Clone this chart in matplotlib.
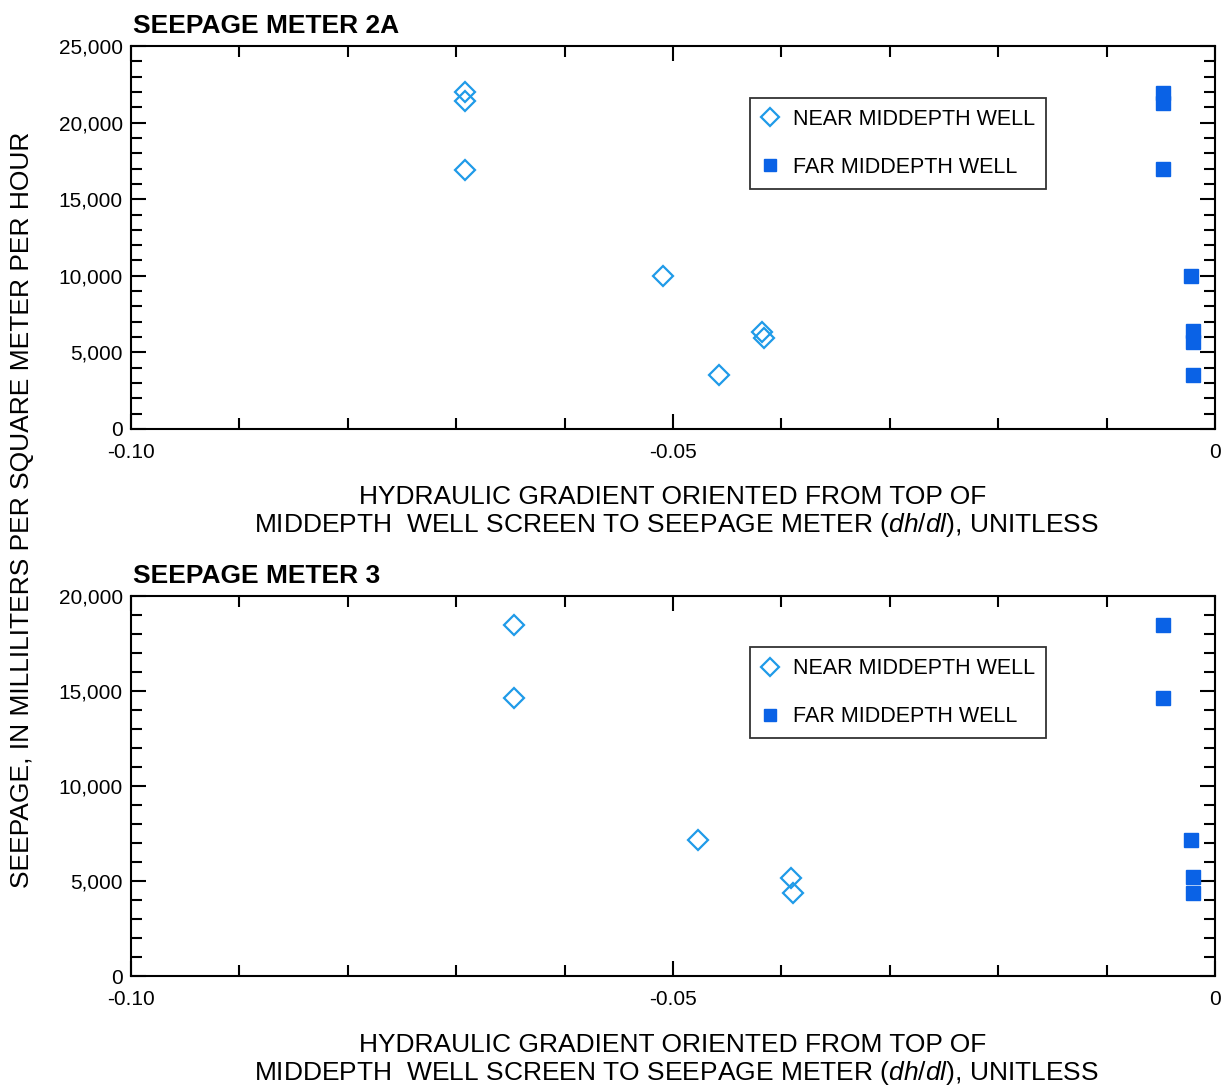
import numpy as np
import matplotlib
matplotlib.use("Agg")
import matplotlib.pyplot as plt
from matplotlib.ticker import MultipleLocator, FixedLocator, FuncFormatter

plt.rcParams['font.family'] = ['Liberation Sans', 'DejaVu Sans']
plt.rcParams['mathtext.fontset'] = 'custom'
plt.rcParams['mathtext.it'] = 'Liberation Sans:italic'
plt.rcParams['mathtext.rm'] = 'Liberation Sans'

# Seepage meter 2A
near_2a_x = [-0.0692, -0.0692, -0.0692, -0.0509, -0.0458, -0.0418, -0.0416]
near_2a_y = [22000, 21400, 16900, 10000, 3500, 6300, 5950]
far_2a_x = [-0.0048, -0.0048, -0.0048, -0.0022, -0.0020, -0.0020, -0.0020]
far_2a_y = [21950, 21300, 16950, 10000, 6400, 5650, 3520]

# Seepage meter 3
near_3_x = [-0.0647, -0.0647, -0.0477, -0.0391, -0.0389]
near_3_y = [18450, 14650, 7160, 5150, 4350]
far_3_x = [-0.0048, -0.0048, -0.0022, -0.0020, -0.0020]
far_3_y = [18450, 14650, 7180, 5200, 4350]

titles = ["SEEPAGE METER 2A", "SEEPAGE METER 3"]
ymax = [25000, 20000]
xtick_vals = [-0.10, -0.05, 0]
xtick_labels = ["-0.10", "-0.05", "0"]

near_color = '#1f9be8'
far_color = '#0a62e6'

fig = plt.figure(figsize=(12.29, 10.91), dpi=100)
ax1 = fig.add_axes([0.1066, 0.6068, 0.882, 0.351])
ax2 = fig.add_axes([0.1066, 0.1054, 0.882, 0.3483])

data = [(near_2a_x, near_2a_y, far_2a_x, far_2a_y),
        (near_3_x, near_3_y, far_3_x, far_3_y)]

# x label line positions (figure pixels from top) for each panel
xlab_rows = [(497, 525), (1045, 1073)]
fig_h = 1091

for ax, (nx, ny, fx, fy), title, ym, rows in zip([ax1, ax2], data, titles, ymax, xlab_rows):
    ax.plot(nx, ny, linestyle='none', marker='D', markersize=10,
            markerfacecolor='none', markeredgecolor=near_color,
            markeredgewidth=1.6, label='NEAR MIDDEPTH WELL')
    ax.plot(fx, fy, linestyle='none', marker='s', markersize=10,
            markerfacecolor=far_color, markeredgecolor=far_color,
            label='FAR MIDDEPTH WELL')
    ax.set_xlim(-0.10, 0)
    ax.set_ylim(0, ym)
    ax.xaxis.set_major_locator(FixedLocator(xtick_vals))
    ax.set_xticklabels(xtick_labels)
    ax.xaxis.set_minor_locator(MultipleLocator(0.01))
    ax.yaxis.set_major_locator(MultipleLocator(5000))
    ax.yaxis.set_minor_locator(MultipleLocator(1000))
    ax.yaxis.set_major_formatter(FuncFormatter(lambda v, p: f"{int(v):,}"))
    ax.tick_params(which='both', direction='in', top=True, right=True,
                   labelsize=15, width=1.5)
    ax.tick_params(axis='x', which='both', pad=10)
    ax.tick_params(axis='y', which='both', pad=6)
    ax.tick_params(which='major', length=11)
    ax.tick_params(which='minor', length=8)
    for s in ax.spines.values():
        s.set_linewidth(1.5)
    ax.text(0.002, 1.022, title, transform=ax.transAxes, fontsize=19,
            fontweight='bold', ha='left', va='bottom')
    fig.text(0.5 * (0.1066 + 0.9886), 1 - rows[0] / fig_h,
             "HYDRAULIC GRADIENT ORIENTED FROM TOP OF",
             fontsize=19, ha='center', va='center')
    fig.text(0.5 * (0.1066 + 0.9886) + 0.003, 1 - rows[1] / fig_h,
             "MIDDEPTH  WELL SCREEN TO SEEPAGE METER ($\\it{dh/dl}$), UNITLESS",
             fontsize=19, ha='center', va='center')
    leg = ax.legend(loc='upper left', bbox_to_anchor=(0.571, 0.865),
                    fontsize=15.5, frameon=True, fancybox=False,
                    edgecolor='black', borderpad=0.5, labelspacing=1.27,
                    handlelength=0.9, handletextpad=0.6, numpoints=1,
                    markerscale=0.9, borderaxespad=0)
    leg.get_frame().set_linewidth(1.3)

fig.text(0.018, 0.5325, "SEEPAGE, IN MILLILITERS PER SQUARE METER PER HOUR",
         rotation=90, fontsize=19, ha='center', va='center')

fig.savefig("out.png", dpi=100)
